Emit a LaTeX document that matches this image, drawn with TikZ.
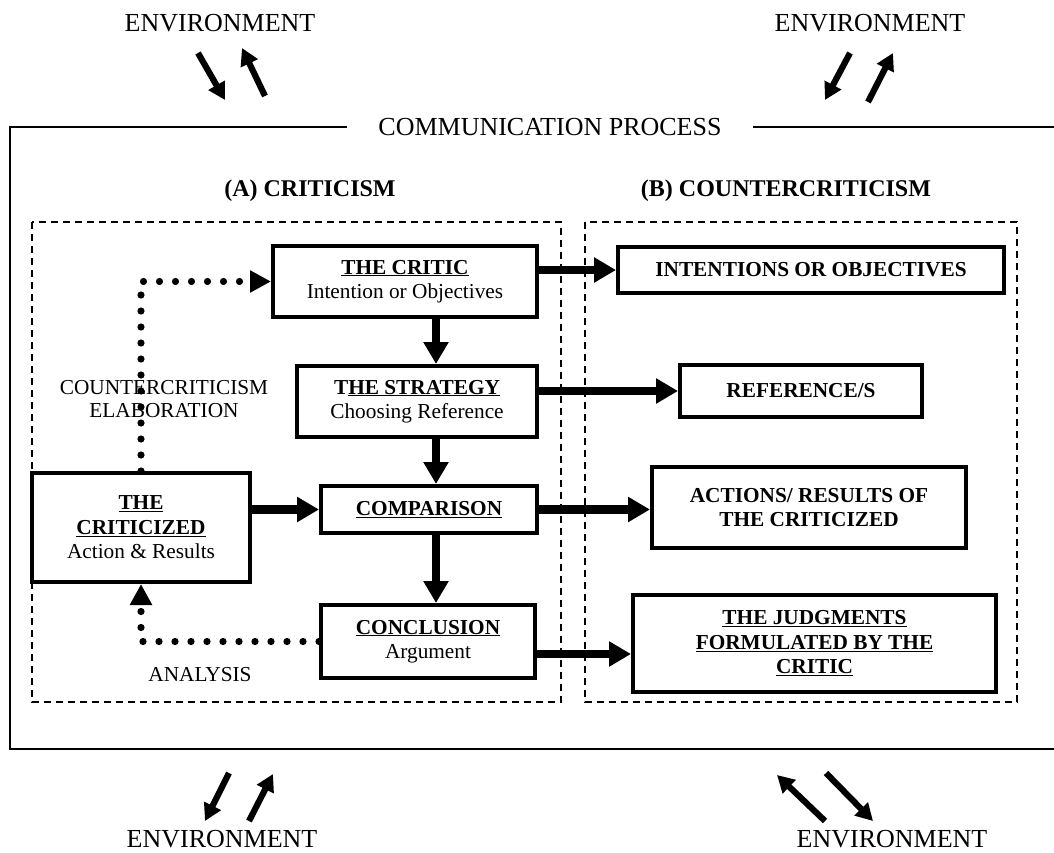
\documentclass[tikz,border=0pt]{standalone}
\usepackage{fontspec}
\setmainfont{Liberation Serif}
\usetikzlibrary{arrows.meta,calc}
\begin{document}
\begin{tikzpicture}[x=1pt,y=-1pt,
  box/.style={draw,line width=4pt,align=center,inner sep=0pt,font=\fontsize{21.3}{24.5}\selectfont},
  big/.style={line width=8.5pt,-{Triangle[length=22pt,width=24pt]}},
  envarrow/.style={line width=6.2pt,-{Triangle[length=17pt,width=18pt]}},
  dotline/.style={line width=7.2pt,line cap=round,dash pattern=on 0pt off 16pt,-{Triangle[length=21pt,width=21pt]}},
  dashbox/.style={draw,line width=1.5pt,dash pattern=on 7pt off 5pt},
  envtext/.style={font=\fontsize{26}{30}\selectfont},
  label/.style={align=center,font=\fontsize{21.3}{23}\selectfont},
  heading/.style={font=\fontsize{24}{28}\selectfont\bfseries}
]
\useasboundingbox (0,0) rectangle (1054,853);

% environment labels
\node[envtext] (envTL) at (220,23) {ENVIRONMENT};
\node[envtext] (envTR) at (870,23) {ENVIRONMENT};
\node[envtext] (envBL) at (222,839) {ENVIRONMENT};
\node[envtext] (envBR) at (892,839) {ENVIRONMENT};

% environment arrows
\coordinate (a1s) at (198,53);  \coordinate (a1e) at (225,100);
\coordinate (a2s) at (265,96);  \coordinate (a2e) at (242,48);
\coordinate (a3s) at (850,53);  \coordinate (a3e) at (825,100);
\coordinate (a4s) at (868,102); \coordinate (a4e) at (893,53);
\coordinate (a5s) at (229,773); \coordinate (a5e) at (205,821);
\coordinate (a6s) at (249,821); \coordinate (a6e) at (273,774);
\coordinate (a7s) at (825,821); \coordinate (a7e) at (777,775);
\coordinate (a8s) at (826,773); \coordinate (a8e) at (873,821);
\draw[envarrow] (a1s) -- (a1e);
\draw[envarrow] (a2s) -- (a2e);
\draw[envarrow] (a3s) -- (a3e);
\draw[envarrow] (a4s) -- (a4e);
\draw[envarrow] (a5s) -- (a5e);
\draw[envarrow] (a6s) -- (a6e);
\draw[envarrow] (a7s) -- (a7e);
\draw[envarrow] (a8s) -- (a8e);

% communication process frame
\node[envtext] (comm) at (550,127) {COMMUNICATION PROCESS};
\draw[line width=2pt] (347,127) -- (10,127) -- (10,749) -- (1060,749);
\draw[line width=2pt] (753,127) -- (1060,127);

% headings
\node[heading] (hA) at (310,191) {(A) CRITICISM};
\node[heading] (hB) at (786,191) {(B) COUNTERCRITICISM};

% dashed regions
\draw[dashbox] (32,222) rectangle (561,702);
\draw[dashbox] (585,222) rectangle (1017,702);

% boxes of (A)
\node[box,minimum width=264pt,minimum height=71pt] (critic) at (405,281.5)
  {\textbf{\underline{THE CRITIC}}\\Intention or Objectives};
\node[box,minimum width=240pt,minimum height=71pt] (strategy) at (417,401.5)
  {\textbf{T\underline{HE STRATEGY}}\\Choosing Reference};
\node[box,minimum width=216pt,minimum height=47pt] (comp) at (429,509.5)
  {\textbf{\underline{COMPARISON}}};
\node[box,minimum width=214pt,minimum height=73pt] (concl) at (428,641.5)
  {\textbf{\underline{CONCLUSION}}\\Argument};
\node[box,minimum width=218pt,minimum height=109pt] (crit) at (141,527.5)
  {\textbf{\underline{THE}}\\\textbf{\underline{CRITICIZED}}\\Action \& Results};

% boxes of (B)
\node[box,minimum width=386pt,minimum height=46pt] (intent) at (811,270)
  {\textbf{INTENTIONS OR OBJECTIVES}};
\node[box,minimum width=242pt,minimum height=52pt] (ref) at (801,391)
  {\textbf{REFERENCE/S}};
\node[box,minimum width=314pt,minimum height=81pt] (act) at (809,507.5)
  {\textbf{ACTIONS/ RESULTS OF}\\\textbf{THE CRITICIZED}};
\node[box,minimum width=363pt,minimum height=97pt] (judg) at (814.5,643.5)
  {\textbf{\underline{THE JUDGMENTS}}\\\textbf{\underline{FORMULATED BY THE}}\\\textbf{\underline{CRITIC}}};

% side labels
\node[label] (elab) at (164,399) {COUNTERCRITICISM\\ELABORATION};
\node[label] (anal) at (200,675) {ANALYSIS};

% vertical flow
\coordinate (vx) at (436,0);
\draw[big] (vx |- critic.south) -- (vx |- strategy.north);
\draw[big] (vx |- strategy.south) -- (vx |- comp.north);
\draw[big] (vx |- comp.south) -- (vx |- concl.north);

% horizontal arrows
\draw[big] (crit.east |- comp.west) -- (comp.west);
\draw[big] (critic.east |- intent.west) -- (intent.west);
\draw[big] (strategy.east |- ref.west) -- (ref.west);
\draw[big] (comp.east) -- (comp.east -| act.west);
\coordinate (cj) at ($(concl.east)+(0,12.5)$);
\draw[big] (cj) -- (cj -| judg.west);

% dotted feedback
\draw[dotline] (crit.north) |- (critic.west);
\draw[dotline] (concl.west) -| (crit.south);
\end{tikzpicture}
\end{document}
